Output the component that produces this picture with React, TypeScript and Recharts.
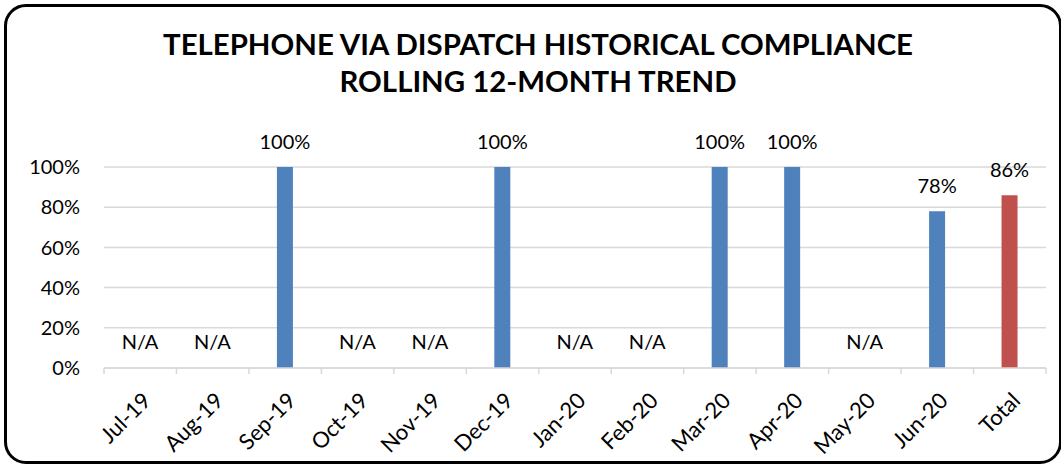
import { BarChart, Bar, XAxis, YAxis, CartesianGrid, LabelList, Cell } from 'recharts';

const months = ['Jul-19', 'Aug-19', 'Sep-19', 'Oct-19', 'Nov-19', 'Dec-19', 'Jan-20', 'Feb-20', 'Mar-20', 'Apr-20', 'May-20', 'Jun-20', 'Total'];
const compliance: (number | null)[] = [null, null, 1, null, null, 1, null, null, 1, 1, null, 0.78, 0.86];
const yTicks = [0, 0.2, 0.4, 0.6, 0.8, 1];
const titleLines = ['TELEPHONE VIA DISPATCH HISTORICAL COMPLIANCE', 'ROLLING 12-MONTH TREND'];

const W = 1061;
const H = 465;
const M_TOP = 167;
const M_RIGHT = 15;
const Y_W = 104;
const X_H = 97;
const HALF_BAND = (W - M_RIGHT - Y_W) / months.length / 2;

const BLUE = '#4F81BD';
const RED = '#C0504D';
const GRID = '#D9D9D9';
const FONT = 'Lato, "Open Sans", sans-serif';

const data = months.map((m, i) => ({
  month: m,
  value: compliance[i] ?? 0,
  label: compliance[i] == null ? 'N/A' : `${Math.round((compliance[i] as number) * 100)}%`,
}));

const XTick = (props: any) => {
  const { x, y, payload, index } = props;
  const last = index === months.length - 1;
  return (
    <g>
      <line x1={x - HALF_BAND} x2={x - HALF_BAND} y1={y} y2={y + 6} stroke={GRID} strokeWidth={1.5} />
      {last && <line x1={x + HALF_BAND} x2={x + HALF_BAND} y1={y} y2={y + 6} stroke={GRID} strokeWidth={1.5} />}
      <g transform={`translate(${x + 12},${y + 34}) rotate(-45)`}>
        <text textAnchor="end" fontSize={22} fontFamily={FONT} fill="#000">
          {payload.value}
        </text>
      </g>
    </g>
  );
};

export default function App() {
  return (
    <div style={{ position: 'absolute', left: 0, top: 0, width: W, height: H, background: '#fff', overflow: 'hidden' }}>
      <BarChart width={W} height={H} data={data} margin={{ top: M_TOP, right: M_RIGHT, left: 0, bottom: 0 }}>
        <CartesianGrid vertical={false} stroke={GRID} strokeWidth={1.5} />
        <XAxis
          dataKey="month"
          height={X_H}
          interval={0}
          tickLine={false}
          tickSize={0}
          tickMargin={0}
          axisLine={{ stroke: GRID, strokeWidth: 1.5 }}
          tick={<XTick />}
        />
        <YAxis
          width={Y_W}
          domain={[0, 1]}
          ticks={yTicks}
          tickFormatter={(v) => `${Math.round(v * 100)}%`}
          axisLine={false}
          tickLine={false}
          tickSize={0}
          tickMargin={24}
          tick={{ fontSize: 20, fontFamily: FONT, fill: '#000' }}
        />
        <Bar dataKey="value" barSize={16} minPointSize={1} isAnimationActive={false}>
          {data.map((d, i) => (
            <Cell
              key={d.month}
              fill={compliance[i] == null ? 'transparent' : i === months.length - 1 ? RED : BLUE}
            />
          ))}
          <LabelList dataKey="label" position="top" offset={18} fontSize={20} fontFamily={FONT} fill="#000" />
        </Bar>
      </BarChart>
      <svg width={W} height={H} style={{ position: 'absolute', left: 0, top: 0, pointerEvents: 'none' }}>
        <text x={538} y={55} textAnchor="middle" fontFamily={FONT} fontWeight={700} fontSize={28} textLength={750} lengthAdjust="spacingAndGlyphs">
          {titleLines[0]}
        </text>
        <text x={538} y={92} textAnchor="middle" fontFamily={FONT} fontWeight={700} fontSize={28} textLength={397} lengthAdjust="spacingAndGlyphs">
          {titleLines[1]}
        </text>
      </svg>
      <div
        style={{
          position: 'absolute',
          left: 4,
          top: 4,
          width: 1058,
          height: 460,
          boxSizing: 'border-box',
          border: '3px solid #000',
          borderRadius: 22,
        }}
      />
    </div>
  );
}
